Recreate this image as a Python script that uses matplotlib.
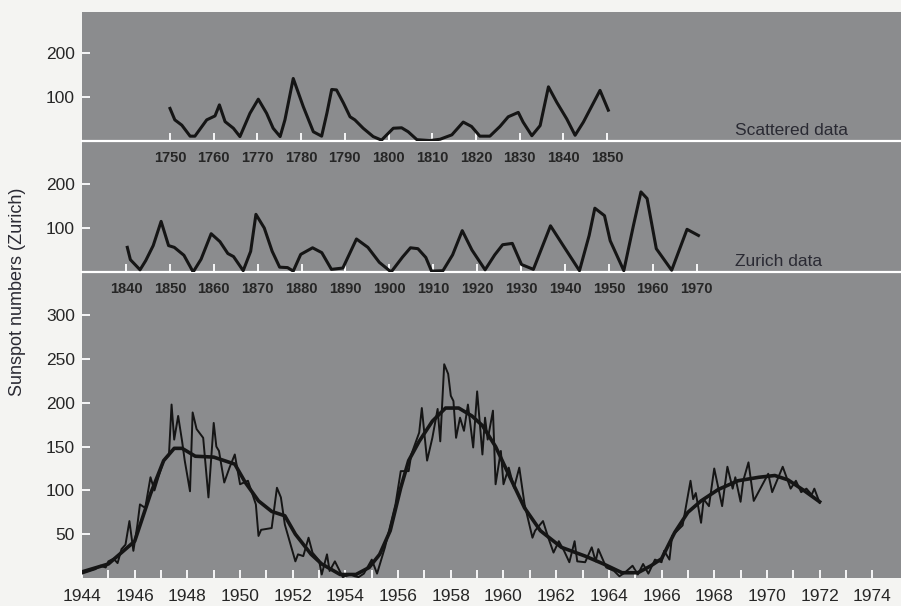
import matplotlib
matplotlib.use("Agg")
import matplotlib.pyplot as plt
import numpy as np

plt.rcParams['font.family'] = ['Liberation Sans', 'DejaVu Sans']

# --- dados ---

# painel 1: "Scattered data" 1750-1850
anos_esp = [1750, 1751.1, 1752.7, 1754.6, 1755.7, 1758.4, 1760.3, 1761.3, 1762.6, 1764.5,
            1766, 1768.3, 1770.2, 1772.1, 1773.6, 1775.2, 1776.3, 1778.2, 1780.5, 1782.8,
            1784.7, 1785.9, 1787, 1788.1, 1789.7, 1791.2, 1792.3, 1794.2, 1796.5, 1798.4,
            1801.1, 1803, 1804.5, 1806.5, 1809.5, 1811.8, 1814.5, 1817.1, 1819, 1820.9,
            1823.2, 1825.5, 1827.4, 1829.7, 1830.8, 1832.8, 1834.7, 1836.6, 1838.5, 1840.8,
            1842.7, 1844.6, 1848.4, 1850.3]
sn_esp = [74, 48, 36, 11, 11, 48, 57, 82, 44, 29,
          10, 63, 95, 63, 29, 10, 48, 142, 78, 21,
          11, 63, 117, 116, 86, 55, 48, 29, 10, 2,
          29, 30, 21, 3, 1, 4, 14, 43, 33, 11,
          11, 33, 55, 65, 43, 12, 35, 123, 88, 50,
          13, 43, 115, 70]

# painel 2: "Zurich data" 1840-1970
anos_zur = [1840.3, 1841.0, 1843.2, 1844.5, 1846.2, 1848.0, 1849.7, 1851.0, 1853.2, 1855.3,
            1857.1, 1859.4, 1861.4, 1863.2, 1864.5, 1866.7, 1868.4, 1869.6, 1871.5, 1873.3,
            1875.0, 1876.8, 1878.1, 1879.8, 1882.5, 1884.6, 1886.8, 1889.4, 1892.5, 1895.1,
            1897.7, 1900.4, 1903.0, 1904.8, 1906.5, 1908.3, 1909.6, 1912.2, 1914.4, 1916.6,
            1918.8, 1921.8, 1924.0, 1925.8, 1928.0, 1930.1, 1932.8, 1936.7, 1939.4, 1943.3,
            1945.5, 1946.8, 1949.0, 1950.3, 1953.4, 1955.6, 1957.3, 1958.7, 1960.8, 1964.3,
            1967.8, 1970.4]
sn_zur = [56, 28, 5, 26, 60, 115, 60, 56, 38, 0,
          29, 87, 69, 42, 35, 3, 47, 131, 100, 47,
          11, 10, 2, 40, 55, 44, 6, 9, 75, 56,
          22, 0, 34, 55, 53, 33, 2, 3, 39, 94,
          50, 5, 39, 62, 65, 17, 6, 105, 63, 3,
          83, 145, 128, 71, 3, 106, 182, 167, 53, 4,
          97, 83]

# painel 3: valores mensais 1944-1972
t_mensal = [1944.0, 1944.1, 1944.3, 1944.5, 1944.7, 1944.9, 1945.0, 1945.2, 1945.35, 1945.5,
            1945.65, 1945.8, 1945.95, 1946.1, 1946.2, 1946.4, 1946.6, 1946.75, 1946.9, 1947.1,
            1947.3, 1947.4, 1947.5, 1947.65, 1947.8, 1947.9, 1948.1, 1948.2, 1948.35, 1948.6,
            1948.8, 1949.0, 1949.1, 1949.2, 1949.4, 1949.6, 1949.8, 1950.0, 1950.3, 1950.6,
            1950.7, 1950.8, 1951.2, 1951.4, 1951.55, 1951.7, 1951.9, 1952.1, 1952.2, 1952.4,
            1952.6, 1952.75, 1953.0, 1953.1, 1953.3, 1953.4, 1953.6, 1953.9, 1954.2, 1954.35,
            1954.5, 1954.7, 1955.0, 1955.2, 1955.5, 1955.9, 1956.1, 1956.4, 1956.5, 1956.8,
            1956.9, 1957.1, 1957.3, 1957.5, 1957.6, 1957.75, 1957.9, 1958.0, 1958.1, 1958.2,
            1958.35, 1958.5, 1958.65, 1958.85, 1959.0, 1959.2, 1959.3, 1959.4, 1959.6, 1959.7,
            1959.9, 1960.0, 1960.2, 1960.4, 1960.6, 1960.8, 1961.1, 1961.2, 1961.5, 1961.7,
            1961.9, 1962.1, 1962.3, 1962.5, 1962.7, 1962.8, 1963.1, 1963.35, 1963.5, 1963.6,
            1963.9, 1964.2, 1964.4, 1964.6, 1964.9, 1965.1, 1965.3, 1965.5, 1965.75, 1966.0,
            1966.1, 1966.3, 1966.4, 1966.6, 1966.8, 1967.1, 1967.2, 1967.3, 1967.5, 1967.6,
            1967.8, 1968.0, 1968.3, 1968.5, 1968.7, 1968.8, 1969.0, 1969.1, 1969.3, 1969.5,
            1970.05, 1970.2, 1970.6, 1970.9, 1971.1, 1971.3, 1971.5, 1971.7, 1971.8, 1972.0]
sn_mensal = [5, 6, 8, 10, 14, 12, 19, 22, 17, 33,
             38, 65, 31, 60, 84, 80, 115, 100, 115, 134,
             140, 198, 158, 185, 156, 134, 99, 189, 170, 160,
             92, 177, 150, 145, 109, 126, 141, 107, 111, 84,
             48, 55, 57, 103, 92, 61, 40, 19, 27, 25,
             46, 29, 20, 4, 27, 8, 19, 1, 4, 2,
             1, 5, 21, 5, 35, 84, 122, 122, 141, 166,
             194, 134, 160, 193, 156, 244, 233, 208, 202, 160,
             183, 168, 198, 149, 213, 141, 183, 158, 191, 107,
             145, 107, 126, 103, 126, 84, 46, 54, 65, 46,
             29, 42, 31, 18, 42, 19, 18, 35, 19, 33,
             12, 8, 2, 6, 14, 4, 16, 5, 21, 18,
             31, 21, 48, 54, 60, 111, 90, 97, 63, 90,
             82, 125, 82, 127, 102, 115, 87, 111, 132, 88,
             119, 98, 127, 102, 111, 98, 102, 95, 102, 86]

# painel 3: curva suavizada
t_suave = [1944.0, 1945.0, 1946.0, 1946.6, 1947.1, 1947.5, 1947.8, 1948.3, 1949.0, 1949.8,
           1950.2, 1950.7, 1951.2, 1951.7, 1952.1, 1952.7, 1953.1, 1953.8, 1954.4, 1954.9,
           1955.3, 1955.7, 1956.1, 1956.4, 1956.8, 1957.3, 1957.8, 1958.3, 1958.8, 1959.2,
           1959.7, 1960.2, 1960.8, 1961.4, 1962.2, 1963.1, 1963.8, 1964.5, 1965.1, 1965.6,
           1966.0, 1966.5, 1967.0, 1967.5, 1968.15, 1968.9, 1969.7, 1970.3, 1970.8, 1971.4,
           1972.0]
sn_suave = [7, 16, 42, 96, 134, 148, 148, 139, 138, 130,
            109, 88, 76, 71, 50, 27, 16, 4, 4, 12,
            27, 54, 103, 134, 156, 179, 194, 194, 185, 174,
            150, 118, 80, 54, 35, 25, 16, 6, 6, 14,
            22, 52, 75, 88, 101, 111, 115, 117, 112, 100,
            87]

ticks_esp = np.arange(1750, 1851, 10)
ticks_zur = np.arange(1840, 1971, 10)
ticks_anos = np.arange(1944, 1975, 1)

# --- figura ---
W, H = 901, 606
cinza = '#8b8c8e'
texto = '#262626'
preto = '#151515'


def ret(l, t, r, b):
    return [l / W, 1 - b / H, (r - l) / W, (b - t) / H]


fig = plt.figure(figsize=(W / 100, H / 100), dpi=100)
fig.patch.set_facecolor('#f4f4f2')

fundo = fig.add_axes(ret(82, 12, 901, 578))
fundo.set_facecolor(cinza)
fundo.set_xticks([])
fundo.set_yticks([])
for s in fundo.spines.values():
    s.set_visible(False)

ax1 = fig.add_axes(ret(82, 12, 901, 141))
ax2 = fig.add_axes(ret(82, 141, 901, 272))
ax3 = fig.add_axes(ret(82, 272, 901, 578))

# rótulos das décadas: fonte mais estreita
fonte_dec = dict(family='Liberation Sans', weight='bold', size=10.5)

for ax in (ax1, ax2, ax3):
    ax.patch.set_alpha(0)
    for s in ax.spines.values():
        s.set_visible(False)
    ax.tick_params(axis='both', direction='in', color='white', length=6, width=1.3,
                   labelcolor=texto, labelsize=12.5)
    ax.tick_params(axis='y', pad=5)

# painel 1
ax1.plot(anos_esp, sn_esp, color=preto, lw=2.2, zorder=3, solid_joinstyle='round')
ax1.axhline(0, color='white', lw=1.6, zorder=1, clip_on=False)
ax1.set_xlim(1729.86, 1917.28)
ax1.set_ylim(0, 293)
ax1.set_yticks([100, 200])
ax1.set_xticks(ticks_esp)
ax1.set_xticklabels([str(a) for a in ticks_esp], fontdict=fonte_dec)
ax1.tick_params(axis='x', pad=7)
ax1.text(0.797, 0.02, 'Scattered data', transform=ax1.transAxes, fontsize=12.5,
         color='#2a2a33', ha='left', va='bottom')

# painel 2
ax2.plot(anos_zur, sn_zur, color=preto, lw=2.2, zorder=3, solid_joinstyle='round')
ax2.axhline(0, color='white', lw=1.6, zorder=1, clip_on=False)
ax2.set_xlim(1829.98, 2016.54)
ax2.set_ylim(0, 297.7)
ax2.set_yticks([100, 200])
ax2.set_xticks(ticks_zur)
ax2.set_xticklabels([str(a) for a in ticks_zur], fontdict=fonte_dec)
ax2.tick_params(axis='x', pad=7)
ax2.text(0.797, 0.02, 'Zurich data', transform=ax2.transAxes, fontsize=12.5,
         color='#2a2a33', ha='left', va='bottom')

# painel 3
ax3.plot(t_mensal, sn_mensal, color=preto, lw=1.4, zorder=3)
ax3.plot(t_suave, sn_suave, color=preto, lw=2.6, zorder=4, solid_joinstyle='round')
ax3.set_xlim(1944, 1975.09)
ax3.set_ylim(0, 349.3)
ax3.set_yticks([50, 100, 150, 200, 250, 300])
ax3.set_xticks(ticks_anos)
ax3.set_xticklabels([str(a) if a % 2 == 0 else '' for a in ticks_anos])
ax3.tick_params(axis='x', pad=8)

fig.text(18 / W, 1 - 292 / H, 'Sunspot numbers (Zurich)', rotation=90, ha='center',
         va='center', fontsize=13, color='#2a2a33')

fig.savefig('out.png', dpi=100, facecolor=fig.get_facecolor())
